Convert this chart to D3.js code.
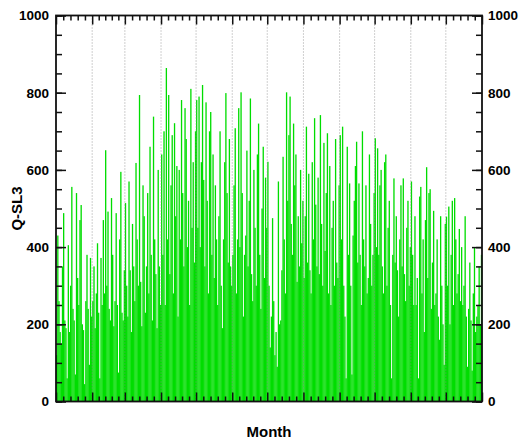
<!DOCTYPE html>
<html lang="en">
<head>
    <meta charset="UTF-8">
    <title>Q-SL3 by Month</title>
    <script src="https://d3js.org/d3.v7.min.js"></script>
    <style>
        body { margin: 0; background: #fff; }
        text { font-family: Arial, 'Liberation Sans', sans-serif; }
    </style>
</head>
<body>
    <svg width="521" height="441"></svg>

    <script>
        // daily Q-SL3 values, one array per month
        const jan = [120, 430, 260, 180, 150, 350, 488, 210, 190, 60, 405, 180, 300, 556, 240, 210, 70, 540, 320, 250, 470, 509, 200, 185, 45, 260, 380, 240, 95, 372, 220];
        const feb = [260, 350, 190, 280, 410, 230, 60, 372, 250, 470, 280, 651, 300, 492, 240, 210, 527, 380, 195, 260, 488, 250, 75, 420, 595, 230, 210, 340];
        const mar = [514, 300, 220, 570, 340, 180, 460, 350, 260, 618, 420, 300, 794, 310, 195, 560, 480, 230, 350, 540, 280, 660, 380, 210, 738, 420, 330, 190, 600, 350, 250];
        const apr = [640, 380, 700, 250, 864, 420, 794, 330, 560, 690, 280, 721, 480, 610, 220, 600, 420, 781, 540, 350, 760, 680, 400, 520, 250, 810, 450, 620, 360, 700];
        const may = [781, 450, 790, 400, 620, 820, 574, 350, 775, 520, 280, 700, 750, 380, 640, 320, 560, 420, 250, 480, 700, 300, 190, 420, 620, 799, 540, 360, 680, 350, 300];
        const jun = [380, 560, 708, 280, 420, 760, 400, 801, 540, 220, 380, 430, 650, 350, 520, 785, 330, 260, 600, 450, 300, 640, 720, 380, 240, 500, 660, 320, 580, 450];
        const jul = [621, 300, 140, 220, 475, 260, 120, 180, 90, 570, 200, 210, 340, 634, 420, 280, 801, 520, 690, 790, 460, 380, 720, 560, 640, 310, 480, 350, 600, 410, 520];
        const aug = [320, 480, 712, 360, 590, 340, 280, 620, 420, 734, 510, 350, 580, 330, 742, 460, 300, 670, 390, 540, 695, 280, 610, 250, 450, 520, 300, 680, 360, 320, 560];
        const sep = [690, 420, 712, 300, 220, 60, 660, 380, 565, 300, 70, 430, 520, 610, 673, 360, 565, 380, 250, 700, 420, 350, 560, 280, 320, 640, 460, 300, 380, 540];
        const oct = [682, 400, 656, 380, 560, 600, 350, 280, 620, 640, 300, 450, 520, 250, 60, 380, 578, 360, 480, 340, 220, 420, 560, 350, 578, 330, 260, 450, 520, 300, 400];
        const nov = [570, 380, 250, 480, 250, 320, 60, 531, 556, 280, 420, 180, 470, 607, 320, 540, 550, 240, 360, 494, 250, 280, 420, 220, 160, 480, 300, 200, 95, 460];
        const dec = [479, 300, 505, 200, 380, 520, 250, 527, 420, 280, 330, 447, 260, 400, 250, 300, 480, 220, 90, 240, 360, 210, 80, 280, 400, 180, 220, 250, 350, 200, 380];

        const months = [jan, feb, mar, apr, may, jun, jul, aug, sep, oct, nov, dec];
        const yTicks = [0, 200, 400, 600, 800, 1000];

        const values = months.flat();
        // day index where each month starts (plus year end)
        const monthStarts = [0];
        months.forEach(m => monthStarts.push(monthStarts[monthStarts.length - 1] + m.length));
        const minorTicks = [];
        for (let i = 0; i < months.length; i++) {
            const a = monthStarts[i], b = monthStarts[i + 1];
            for (let k = 1; k < 5; k++) minorTicks.push(a + (b - a) * k / 5);
        }

        const margin = { top: 15.5, right: 39, bottom: 39.5, left: 56 };
        const width = 521 - margin.left - margin.right;
        const height = 441 - margin.top - margin.bottom;

        const svg = d3.select('svg');
        const g = svg.append('g').attr('transform', `translate(${margin.left},${margin.top})`);

        const x = d3.scaleLinear().domain([0, values.length]).range([0, width]);
        const xBand = d3.scaleBand().domain(d3.range(values.length)).range([0, width]).padding(0);
        const y = d3.scaleLinear().domain([0, 1000]).range([height, 0]);

        g.append('g')
            .selectAll('rect')
            .data(values)
            .join('rect')
            .attr('x', (d, i) => xBand(i))
            .attr('width', xBand.bandwidth() + 0.15)
            .attr('y', d => y(d))
            .attr('height', d => height - y(d))
            .attr('fill', '#00dd00');

        // dotted month lines
        g.append('g')
            .selectAll('line')
            .data(monthStarts.slice(1, -1))
            .join('line')
            .attr('x1', d => x(d)).attr('x2', d => x(d))
            .attr('y1', 0).attr('y2', height)
            .attr('stroke', '#888')
            .attr('stroke-width', 0.8)
            .attr('stroke-dasharray', '1,2');

        const styleAxis = sel => {
            sel.select('.domain').remove();
            sel.selectAll('line').attr('stroke', '#111').attr('stroke-width', 1.5);
            sel.selectAll('text').attr('font-size', 13.5).attr('font-weight', 'bold').attr('fill', '#000');
        };

        // left and right axes, ticks pointing inward
        g.append('g')
            .call(d3.axisLeft(y).tickValues(yTicks).tickSizeInner(-10).tickPadding(7).tickFormat(d3.format('d')))
            .call(styleAxis);
        g.append('g')
            .call(d3.axisLeft(y).ticks(20).tickSizeInner(-6).tickFormat(''))
            .call(styleAxis);
        g.append('g')
            .attr('transform', `translate(${width},0)`)
            .call(d3.axisRight(y).tickValues(yTicks).tickSizeInner(-10).tickPadding(6).tickFormat(d3.format('d')))
            .call(styleAxis);
        g.append('g')
            .attr('transform', `translate(${width},0)`)
            .call(d3.axisRight(y).ticks(20).tickSizeInner(-6).tickFormat(''))
            .call(styleAxis);

        // top and bottom axes, month ticks
        g.append('g')
            .attr('transform', `translate(0,${height})`)
            .call(d3.axisBottom(x).tickValues(monthStarts).tickSizeInner(-9).tickFormat(''))
            .call(styleAxis);
        g.append('g')
            .attr('transform', `translate(0,${height})`)
            .call(d3.axisBottom(x).tickValues(minorTicks).tickSizeInner(-5).tickFormat(''))
            .call(styleAxis);
        g.append('g')
            .call(d3.axisTop(x).tickValues(monthStarts).tickSizeInner(-9).tickFormat(''))
            .call(styleAxis);
        g.append('g')
            .call(d3.axisTop(x).tickValues(minorTicks).tickSizeInner(-5).tickFormat(''))
            .call(styleAxis);

        // frame
        g.append('rect')
            .attr('width', width)
            .attr('height', height)
            .attr('fill', 'none')
            .attr('stroke', '#111')
            .attr('stroke-width', 1.8);

        svg.append('text')
            .attr('x', margin.left + width / 2)
            .attr('y', 437)
            .attr('text-anchor', 'middle')
            .attr('font-size', 15)
            .attr('font-weight', 'bold')
            .text('Month');

        svg.append('text')
            .attr('transform', `translate(22,${margin.top + height / 2}) rotate(-90)`)
            .attr('text-anchor', 'middle')
            .attr('font-size', 15)
            .attr('font-weight', 'bold')
            .text('Q-SL3');
    </script>
</body>
</html>
